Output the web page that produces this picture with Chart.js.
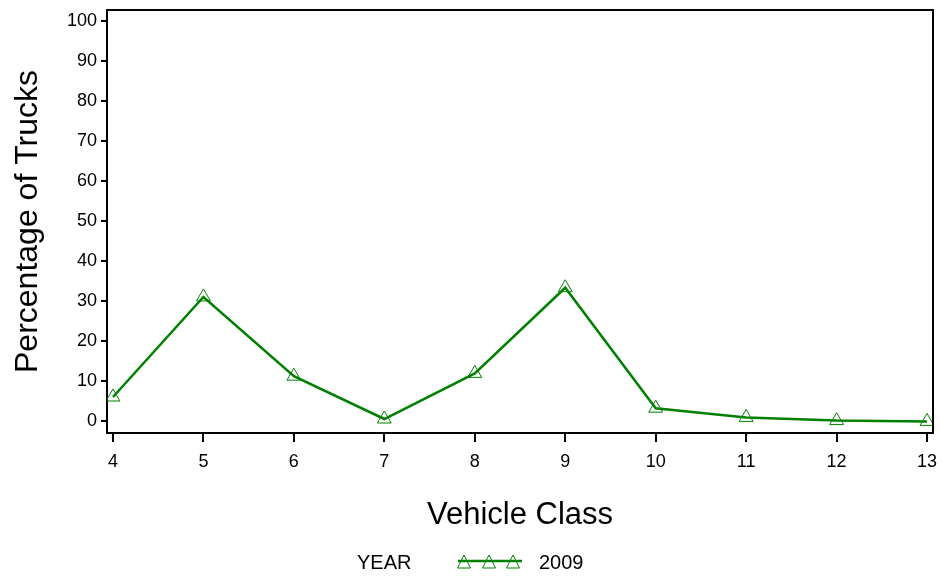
<!DOCTYPE html>
<html>
<head>
<meta charset="utf-8">
<title>Percentage of Trucks by Vehicle Class</title>
<script src="https://cdn.jsdelivr.net/npm/chart.js@4/dist/chart.umd.min.js"></script>
<style>
  html, body { margin: 0; padding: 0; background: #fff; }
  #wrap { width: 942px; height: 578px; }
</style>
</head>
<body>
<div id="wrap"><canvas id="truckChart" width="942" height="578"></canvas></div>
<script>
// data
const vehicleClasses = [4, 5, 6, 7, 8, 9, 10, 11, 12, 13];
const pct2009 = [6.0, 31.0, 11.2, 0.5, 11.9, 33.3, 3.2, 0.9, 0.1, -0.1];
const yTickValues = [0, 10, 20, 30, 40, 50, 60, 70, 80, 90, 100];
const seriesLabel = '2009';
const legendTitle = 'YEAR';

const GREEN = 'rgb(0,128,0)';
const FONT = 'Liberation Sans, Arial, sans-serif';

// frame around the plot area (top + right sides)
const framePlugin = {
  id: 'frame',
  afterDraw(chart) {
    const { ctx, chartArea: a } = chart;
    ctx.save();
    ctx.strokeStyle = '#000';
    ctx.lineWidth = 2;
    ctx.beginPath();
    ctx.moveTo(a.left, a.top);
    ctx.lineTo(a.right, a.top);
    ctx.lineTo(a.right, a.bottom);
    ctx.stroke();
    ctx.restore();
  }
};

// legend like the SAS one: "YEAR  -^-^-^-  2009"
const legendPlugin = {
  id: 'sasLegend',
  afterDraw(chart) {
    const ctx = chart.ctx;
    const y = 563;
    ctx.save();
    ctx.font = '20px ' + FONT;
    ctx.fillStyle = '#000';
    ctx.textBaseline = 'middle';
    ctx.textAlign = 'left';
    ctx.fillText(legendTitle, 357, y);
    ctx.fillText(seriesLabel, 539, y);
    ctx.strokeStyle = GREEN;
    ctx.lineWidth = 2.5;
    ctx.beginPath();
    ctx.moveTo(458, y - 2);
    ctx.lineTo(522, y - 2);
    ctx.stroke();
    ctx.lineWidth = 1;
    [464, 489, 513].forEach(x => {
      ctx.beginPath();
      ctx.moveTo(x, y - 8);
      ctx.lineTo(x + 6.5, y + 5);
      ctx.lineTo(x - 6.5, y + 5);
      ctx.closePath();
      ctx.stroke();
    });
    ctx.restore();
  }
};

new Chart(document.getElementById('truckChart'), {
  type: 'line',
  data: {
    labels: vehicleClasses,
    datasets: [{
      label: seriesLabel,
      data: vehicleClasses.map((c, i) => ({ x: c, y: pct2009[i] })),
      borderColor: GREEN,
      borderWidth: 2.5,
      pointStyle: 'triangle',
      pointRadius: 8,
      pointBorderWidth: 1,
      pointBorderColor: GREEN,
      pointBackgroundColor: 'rgba(0,0,0,0)',
      tension: 0,
      fill: false
    }]
  },
  options: {
    responsive: false,
    animation: false,
    layout: { padding: { top: 10, right: 9, bottom: 38, left: 0 } },
    plugins: {
      legend: { display: false },
      tooltip: { enabled: false }
    },
    scales: {
      x: {
        type: 'linear',
        min: 3.934,
        max: 13.066,
        afterBuildTicks: s => { s.ticks = vehicleClasses.map(v => ({ value: v })); },
        afterFit: s => { s.height = 107; s.paddingLeft = 0; s.paddingRight = 0; },
        grid: { display: true, drawOnChartArea: false, drawTicks: true, tickLength: 9, color: '#000', lineWidth: 2 },
        border: { display: true, color: '#000', width: 2 },
        ticks: { color: '#000', font: { family: FONT, size: 18 }, padding: 9, maxRotation: 0 },
        title: { display: true, text: 'Vehicle Class', color: '#000', font: { family: FONT, size: 31 }, padding: { top: 0, bottom: 6 } }
      },
      y: {
        min: -3,
        max: 102.7,
        afterBuildTicks: s => { s.ticks = yTickValues.map(v => ({ value: v })); },
        afterFit: s => { s.width = 107; s.paddingTop = 0; s.paddingBottom = 0; },
        grid: { display: true, drawOnChartArea: false, drawTicks: true, tickLength: 6, color: '#000', lineWidth: 2 },
        border: { display: true, color: '#000', width: 2 },
        ticks: { color: '#000', font: { family: FONT, size: 18 }, padding: 4 },
        title: { display: true, text: 'Percentage of Trucks', color: '#000', font: { family: FONT, size: 32 }, padding: { top: 9, bottom: 0 } }
      }
    }
  },
  plugins: [framePlugin, legendPlugin]
});
</script>
</body>
</html>
